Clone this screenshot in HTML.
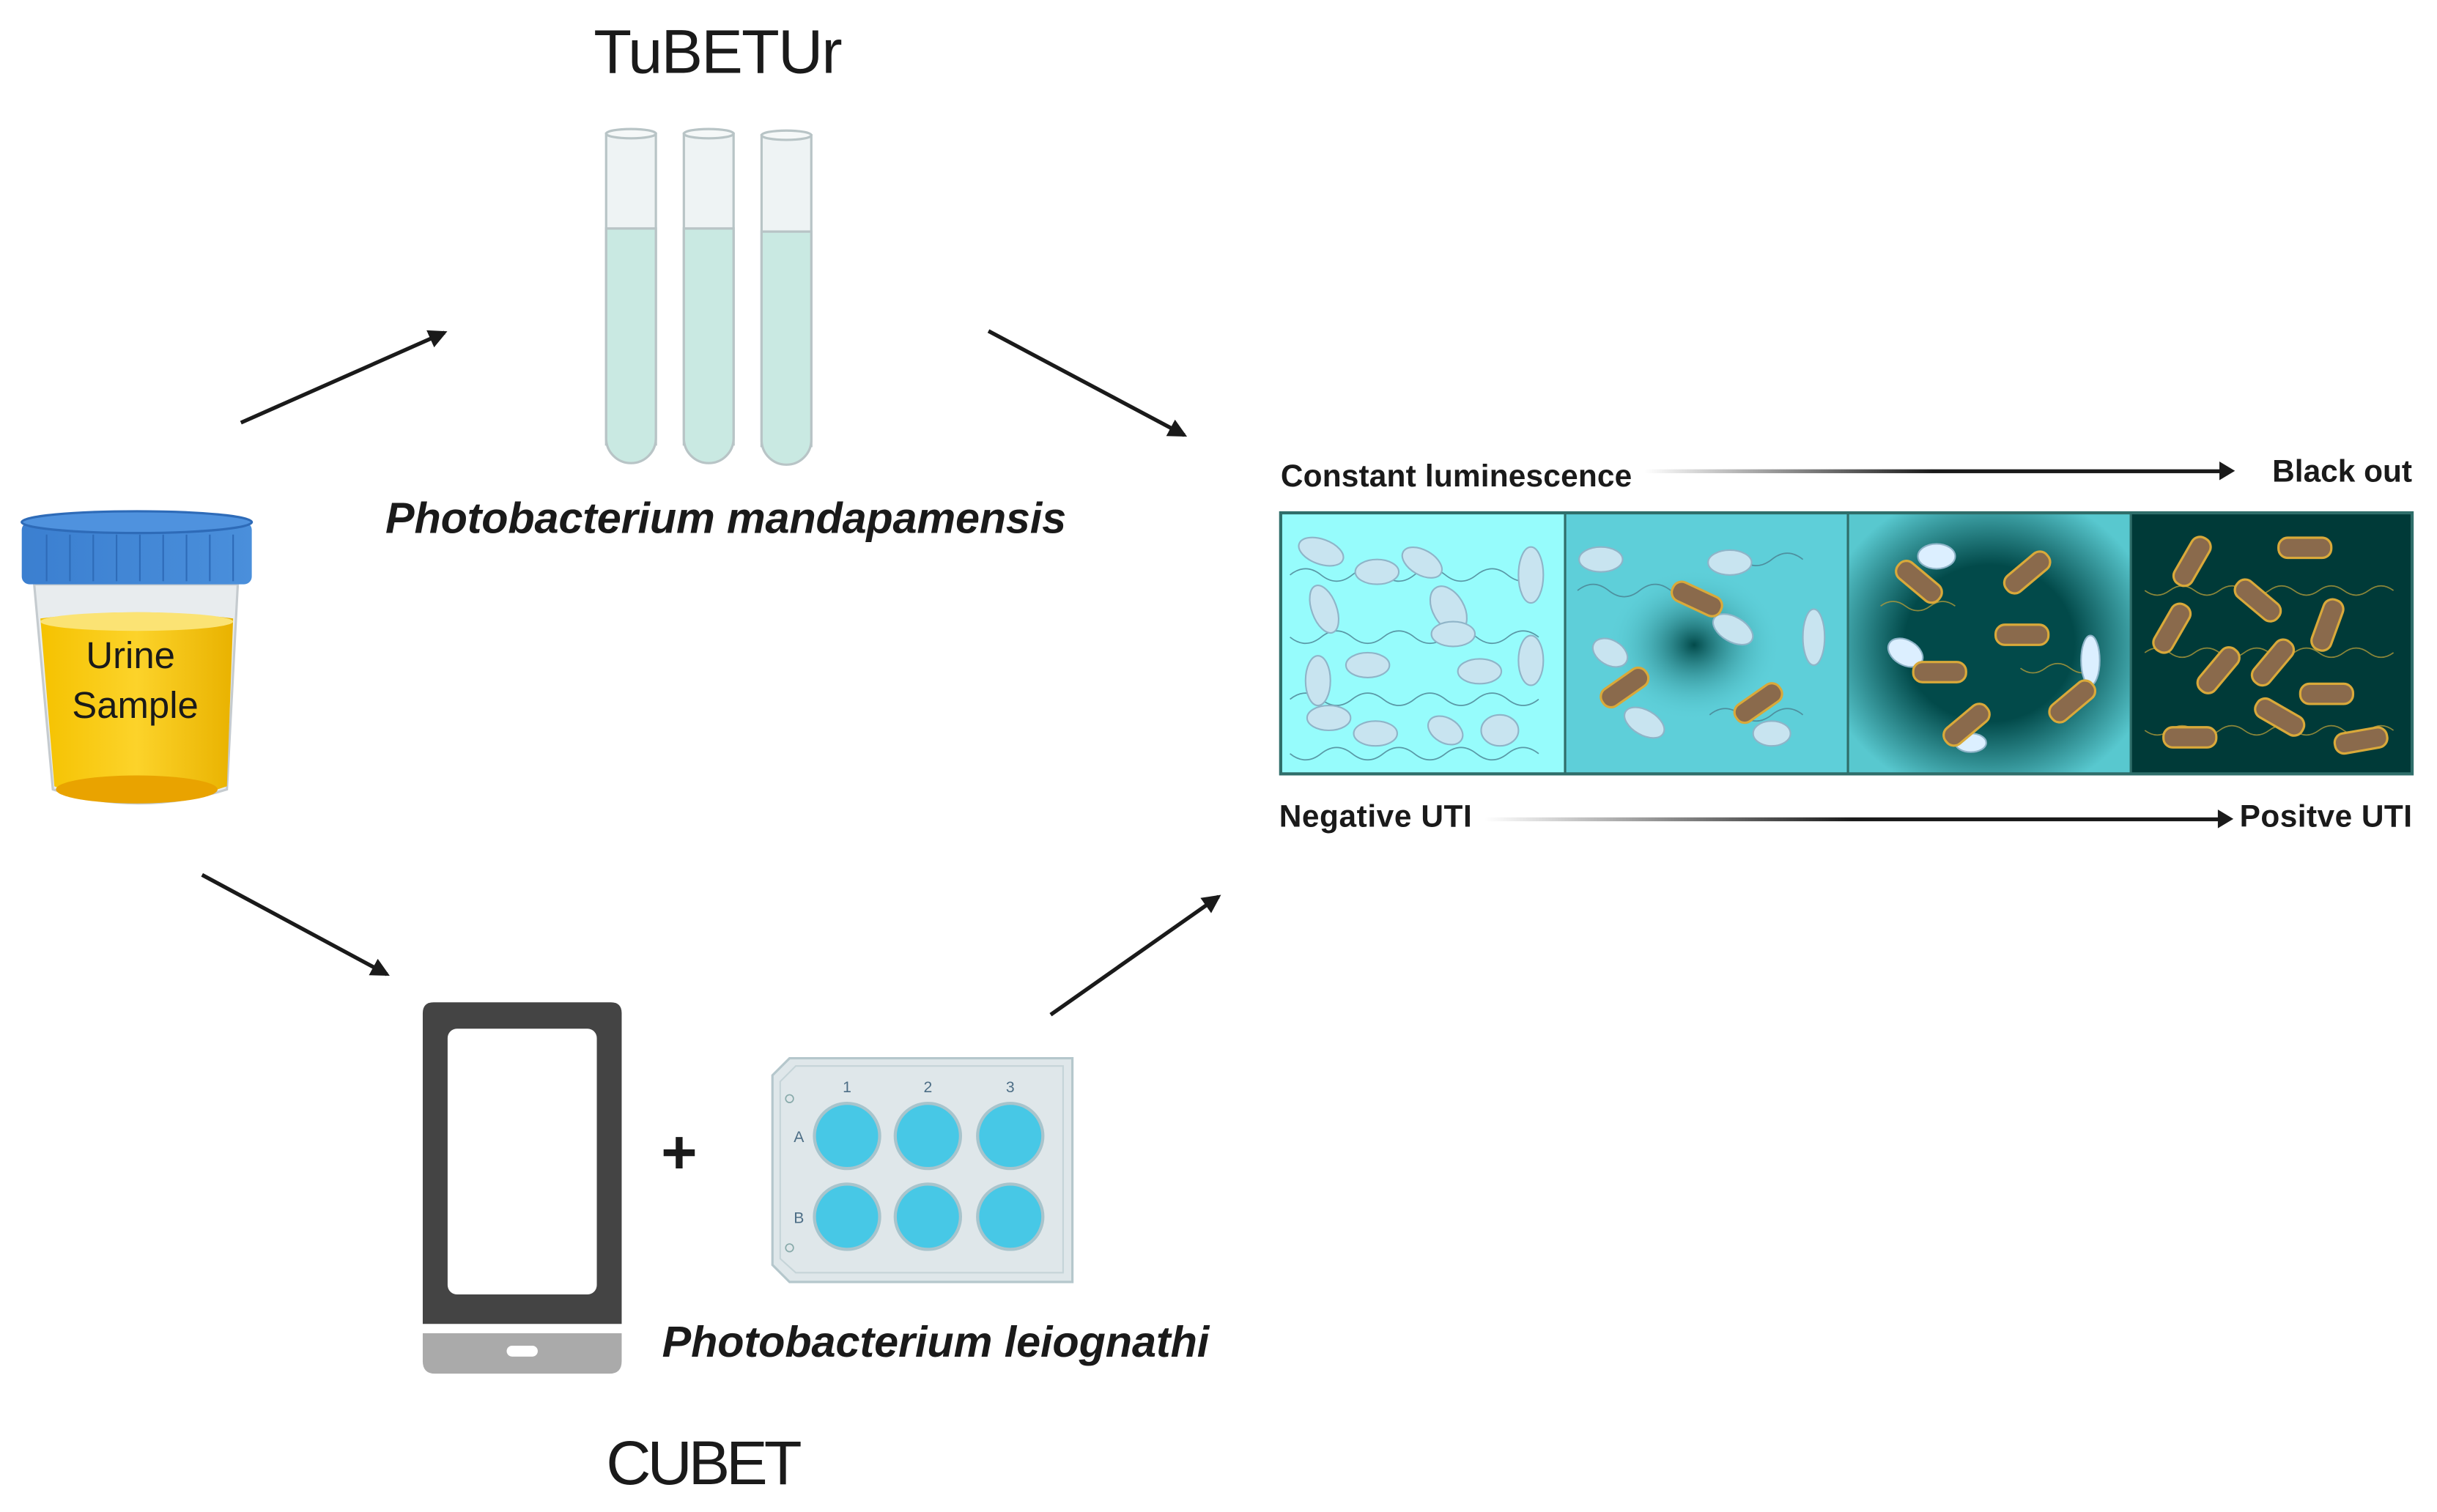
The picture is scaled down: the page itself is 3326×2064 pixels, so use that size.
<!DOCTYPE html>
<html><head><meta charset="utf-8"><style>html,body{margin:0;padding:0;background:#fff}svg{display:block}</style></head>
<body>
<svg width="3326" height="2064" viewBox="0 0 1568 973" xmlns="http://www.w3.org/2000/svg" font-family="Liberation Sans, sans-serif">
<defs>
<marker id="ah2" markerWidth="12" markerHeight="12" refX="10" refY="6" orient="auto" markerUnits="userSpaceOnUse"><path d="M0,0 L12,6 L0,12 z" fill="#1a1a1a"/></marker>
<linearGradient id="fade" x1="0" x2="1" y1="0" y2="0"><stop offset="0" stop-color="#1a1a1a" stop-opacity="0"/><stop offset="0.5" stop-color="#1a1a1a"/><stop offset="1" stop-color="#1a1a1a"/></linearGradient>
<radialGradient id="p2" cx="0.5" cy="0.5" r="0.5"><stop offset="0" stop-color="#024a4a"/><stop offset="0.7" stop-color="#5ecfd9" stop-opacity="0"/></radialGradient>
<radialGradient id="p3" cx="0.5" cy="0.5" r="0.6"><stop offset="0.5" stop-color="#024a4a"/><stop offset="1" stop-color="#58c8cf"/></radialGradient>
<linearGradient id="urine" x1="0" x2="1"><stop offset="0" stop-color="#f5c200"/><stop offset="0.5" stop-color="#fcd32a"/><stop offset="1" stop-color="#e9b200"/></linearGradient>
<linearGradient id="cap" x1="0" x2="1"><stop offset="0" stop-color="#3b7fd0"/><stop offset="1" stop-color="#4a8fdb"/></linearGradient>
</defs>

<text x="462" y="47" font-size="40" text-anchor="middle" fill="#1a1a1a" textLength="160">TuBETUr</text>

<g stroke="#b8c4c6" stroke-width="1.5">
<g><rect x="390" y="86" width="32" height="200" fill="#eef3f4"/><path d="M390,147 H422 V282 A16,16 0 0 1 390,282 Z" fill="#c9e9e2"/><ellipse cx="406" cy="86" rx="16" ry="3" fill="#f5f8f8"/></g>
<g><rect x="440" y="86" width="32" height="200" fill="#eef3f4"/><path d="M440,147 H472 V282 A16,16 0 0 1 440,282 Z" fill="#c9e9e2"/><ellipse cx="456" cy="86" rx="16" ry="3" fill="#f5f8f8"/></g>
<g><rect x="490" y="87" width="32" height="200" fill="#eef3f4"/><path d="M490,149 H522 V283 A16,16 0 0 1 490,283 Z" fill="#c9e9e2"/><ellipse cx="506" cy="87" rx="16" ry="3" fill="#f5f8f8"/></g>
</g>
<text x="248" y="343" font-size="28" font-weight="bold" font-style="italic" fill="#1a1a1a" textLength="438">Photobacterium mandapamensis</text>

<g stroke="#1a1a1a" stroke-width="2.5">
<line x1="155" y1="272" x2="286" y2="214" marker-end="url(#ah2)"/>
<line x1="636" y1="213" x2="762" y2="280" marker-end="url(#ah2)"/>
<line x1="130" y1="563" x2="249" y2="627" marker-end="url(#ah2)"/>
<line x1="676" y1="653" x2="784" y2="577" marker-end="url(#ah2)"/>
</g>

<path d="M22,376 H153 L146,508 Q88,526 34,508 Z" fill="#e8ecee" stroke="#c5cbcf" stroke-width="1.5"/>
<path d="M26,398 Q88,390 150,398 L146,506 Q88,526 35,506 Z" fill="url(#urine)"/>
<ellipse cx="88" cy="400" rx="62" ry="6" fill="#fbe374"/>
<ellipse cx="88" cy="508" rx="52" ry="9" fill="#e9a300"/>
<rect x="14" y="336" width="148" height="40" rx="5" fill="url(#cap)"/>
<ellipse cx="88" cy="336" rx="74" ry="7" fill="#4f92de" stroke="#2e6bb8" stroke-width="1.5"/>
<g stroke="#2e6bb8" stroke-width="1">
<line x1="30" y1="344" x2="30" y2="374"/><line x1="45" y1="344" x2="45" y2="374"/><line x1="60" y1="344" x2="60" y2="374"/><line x1="75" y1="344" x2="75" y2="374"/><line x1="90" y1="344" x2="90" y2="374"/><line x1="105" y1="344" x2="105" y2="374"/><line x1="120" y1="344" x2="120" y2="374"/><line x1="135" y1="344" x2="135" y2="374"/><line x1="150" y1="344" x2="150" y2="374"/>
</g>
<text x="84" y="430" font-size="24" text-anchor="middle" fill="#1a1a1a">Urine</text>
<text x="87" y="462" font-size="24" text-anchor="middle" fill="#1a1a1a">Sample</text>

<text x="824" y="313" font-size="20" font-weight="bold" fill="#1a1a1a" textLength="226">Constant luminescence</text>
<rect x="1058" y="302" width="372" height="2.5" fill="url(#fade)"/>
<path d="M1428,297 L1438,303 L1428,309 Z" fill="#1a1a1a"/>
<text x="1552" y="310" font-size="20" font-weight="bold" fill="#1a1a1a" text-anchor="end" textLength="90">Black out</text>

<text x="823" y="532" font-size="20" font-weight="bold" fill="#1a1a1a" textLength="124">Negative UTI</text>
<rect x="955" y="526" width="474" height="2.5" fill="url(#fade)"/>
<path d="M1427,521 L1437,527 L1427,533 Z" fill="#1a1a1a"/>
<text x="1552" y="532" font-size="20" font-weight="bold" fill="#1a1a1a" text-anchor="end" textLength="111">Positve UTI</text>

<rect x="824" y="330" width="183" height="168" fill="#96fcfc"/>
<rect x="1007" y="330" width="182" height="168" fill="#5ecfd9"/>
<ellipse cx="1090" cy="415" rx="80" ry="70" fill="url(#p2)"/>
<rect x="1189" y="330" width="182" height="168" fill="url(#p3)"/>
<rect x="1371" y="330" width="181" height="168" fill="#003a38"/>

<!-- flagella squiggles -->
<g fill="none" stroke="#4a7f90" stroke-width="0.8" opacity="0.8">
<path d="M830,370 q10,-8 20,0 t20,0 t20,0 t20,0 t20,0 t20,0 t20,0 t20,0"/>
<path d="M830,410 q10,8 20,0 t20,0 t20,0 t20,0 t20,0 t20,0 t20,0 t20,0"/>
<path d="M830,450 q10,-8 20,0 t20,0 t20,0 t20,0 t20,0 t20,0 t20,0 t20,0"/>
<path d="M830,485 q10,8 20,0 t20,0 t20,0 t20,0 t20,0 t20,0 t20,0 t20,0"/>
<path d="M1015,380 q10,-8 20,0 t20,0 t20,0"/>
<path d="M1120,360 q10,8 20,0 t20,0"/>
<path d="M1100,460 q10,-8 20,0 t20,0 t20,0"/>
</g>
<g fill="none" stroke="#b09a3a" stroke-width="0.8" opacity="0.8">
<path d="M1210,390 q8,-6 16,0 t16,0 t16,0"/>
<path d="M1300,430 q8,6 16,0 t16,0 t16,0"/>
<path d="M1380,420 q8,-6 16,0 t16,0 t16,0 t16,0 t16,0 t16,0 t16,0 t16,0 t16,0 t16,0"/>
<path d="M1380,380 q8,6 16,0 t16,0 t16,0 t16,0 t16,0 t16,0 t16,0 t16,0 t16,0 t16,0"/>
<path d="M1380,470 q8,6 16,0 t16,0 t16,0 t16,0 t16,0 t16,0 t16,0 t16,0 t16,0 t16,0"/>
</g>

<rect x="824" y="330" width="728" height="168" fill="none" stroke="#2f6e6a" stroke-width="2"/>
<line x1="1007" y1="330" x2="1007" y2="498" stroke="#2f6e6a" stroke-width="1.5"/>
<line x1="1189" y1="330" x2="1189" y2="498" stroke="#2f6e6a" stroke-width="1.5"/>
<line x1="1371" y1="330" x2="1371" y2="498" stroke="#2f6e6a" stroke-width="1.5"/>

<g fill="#c8e4f0" stroke="#8fb4c8" stroke-width="1">
<ellipse cx="850" cy="355" rx="15" ry="8" transform="rotate(20 850 355)"/>
<ellipse cx="886" cy="368" rx="14" ry="8"/>
<ellipse cx="915" cy="362" rx="14" ry="8" transform="rotate(30 915 362)"/>
<ellipse cx="985" cy="370" rx="8" ry="18"/>
<ellipse cx="852" cy="392" rx="8" ry="16" transform="rotate(-20 852 392)"/>
<ellipse cx="932" cy="392" rx="10" ry="16" transform="rotate(-30 932 392)"/>
<ellipse cx="880" cy="428" rx="14" ry="8"/>
<ellipse cx="935" cy="408" rx="14" ry="8"/>
<ellipse cx="848" cy="438" rx="8" ry="16"/>
<ellipse cx="952" cy="432" rx="14" ry="8"/>
<ellipse cx="985" cy="425" rx="8" ry="16"/>
<ellipse cx="855" cy="462" rx="14" ry="8"/>
<ellipse cx="885" cy="472" rx="14" ry="8"/>
<ellipse cx="930" cy="470" rx="12" ry="8" transform="rotate(30 930 470)"/>
<ellipse cx="965" cy="470" rx="12" ry="10"/>
<ellipse cx="1030" cy="360" rx="14" ry="8"/>
<ellipse cx="1113" cy="362" rx="14" ry="8"/>
<ellipse cx="1036" cy="420" rx="12" ry="8" transform="rotate(30 1036 420)"/>
<ellipse cx="1115" cy="405" rx="14" ry="8" transform="rotate(30 1115 405)"/>
<ellipse cx="1167" cy="410" rx="7" ry="18"/>
<ellipse cx="1058" cy="465" rx="14" ry="8" transform="rotate(30 1058 465)"/>
<ellipse cx="1140" cy="472" rx="12" ry="8"/>
<ellipse cx="1246" cy="358" rx="12" ry="8" fill="#dcefff"/>
<ellipse cx="1226" cy="420" rx="12" ry="8" fill="#dcefff" transform="rotate(30 1226 420)"/>
<ellipse cx="1345" cy="425" rx="6" ry="16" fill="#dcefff"/>
<ellipse cx="1268" cy="478" rx="10" ry="6" fill="#dcefff"/>
</g>
<g fill="#8a6a4c" stroke="#d9a93a" stroke-width="1.5">
<rect x="1075" y="379" width="34" height="13" rx="6" transform="rotate(25 1092 385)"/>
<rect x="1028" y="436" width="34" height="13" rx="6" transform="rotate(-35 1045 442)"/>
<rect x="1114" y="446" width="34" height="13" rx="6" transform="rotate(-35 1131 452)"/>
<rect x="1218" y="368" width="34" height="13" rx="6" transform="rotate(40 1235 374)"/>
<rect x="1287" y="362" width="34" height="13" rx="6" transform="rotate(-40 1304 368)"/>
<rect x="1284" y="402" width="34" height="13" rx="6"/>
<rect x="1231" y="426" width="34" height="13" rx="6"/>
<rect x="1248" y="460" width="34" height="13" rx="6" transform="rotate(-40 1265 466)"/>
<rect x="1316" y="445" width="34" height="13" rx="6" transform="rotate(-40 1333 451)"/>
<rect x="1393" y="355" width="34" height="13" rx="6" transform="rotate(-60 1410 361)"/>
<rect x="1466" y="346" width="34" height="13" rx="6"/>
<rect x="1436" y="380" width="34" height="13" rx="6" transform="rotate(40 1453 386)"/>
<rect x="1380" y="398" width="34" height="13" rx="6" transform="rotate(-60 1397 404)"/>
<rect x="1480" y="396" width="34" height="13" rx="6" transform="rotate(-70 1497 402)"/>
<rect x="1410" y="425" width="34" height="13" rx="6" transform="rotate(-50 1427 431)"/>
<rect x="1445" y="420" width="34" height="13" rx="6" transform="rotate(-50 1462 426)"/>
<rect x="1450" y="455" width="34" height="13" rx="6" transform="rotate(30 1467 461)"/>
<rect x="1480" y="440" width="34" height="13" rx="6"/>
<rect x="1392" y="468" width="34" height="13" rx="6"/>
<rect x="1502" y="470" width="34" height="13" rx="6" transform="rotate(-10 1519 476)"/>
</g>

<path d="M272,652 Q272,645 279,645 H393 Q400,645 400,652 V852 H272 Z" fill="#444"/>
<rect x="288" y="662" width="96" height="171" rx="6" fill="#fff"/>
<path d="M272,858 H400 V876 Q400,884 392,884 H280 Q272,884 272,876 Z" fill="#aaa"/>
<rect x="326" y="866" width="20" height="7" rx="3.5" fill="#fff"/>

<text x="437" y="755" font-size="40" font-weight="bold" text-anchor="middle" fill="#1a1a1a">+</text>

<path d="M508,681 H690 V825 H508 L497,814 V692 Z" fill="#dfe7ea" stroke="#b5c7cc" stroke-width="1.5"/>
<path d="M512,686 H684 V819 H512 L502,810 V696 Z" fill="none" stroke="#c5d4d8" stroke-width="1"/>
<g fill="#4d6e86" font-size="10" text-anchor="middle">
<text x="545" y="703">1</text><text x="597" y="703">2</text><text x="650" y="703">3</text>
<text x="514" y="735">A</text><text x="514" y="787">B</text>
</g>
<circle cx="508" cy="707" r="2.5" fill="none" stroke="#8aa" stroke-width="0.8"/>
<circle cx="508" cy="803" r="2.5" fill="none" stroke="#8aa" stroke-width="0.8"/>
<g fill="#47c8e6" stroke="#a8c4cc" stroke-width="2">
<circle cx="545" cy="731" r="21"/><circle cx="597" cy="731" r="21"/><circle cx="650" cy="731" r="21"/>
<circle cx="545" cy="783" r="21"/><circle cx="597" cy="783" r="21"/><circle cx="650" cy="783" r="21"/>
</g>

<text x="426" y="873" font-size="28" font-weight="bold" font-style="italic" fill="#1a1a1a" textLength="352">Photobacterium leiognathi</text>
<text x="453" y="955" font-size="40" text-anchor="middle" fill="#1a1a1a" textLength="126">CUBET</text>
</svg>
</body></html>
